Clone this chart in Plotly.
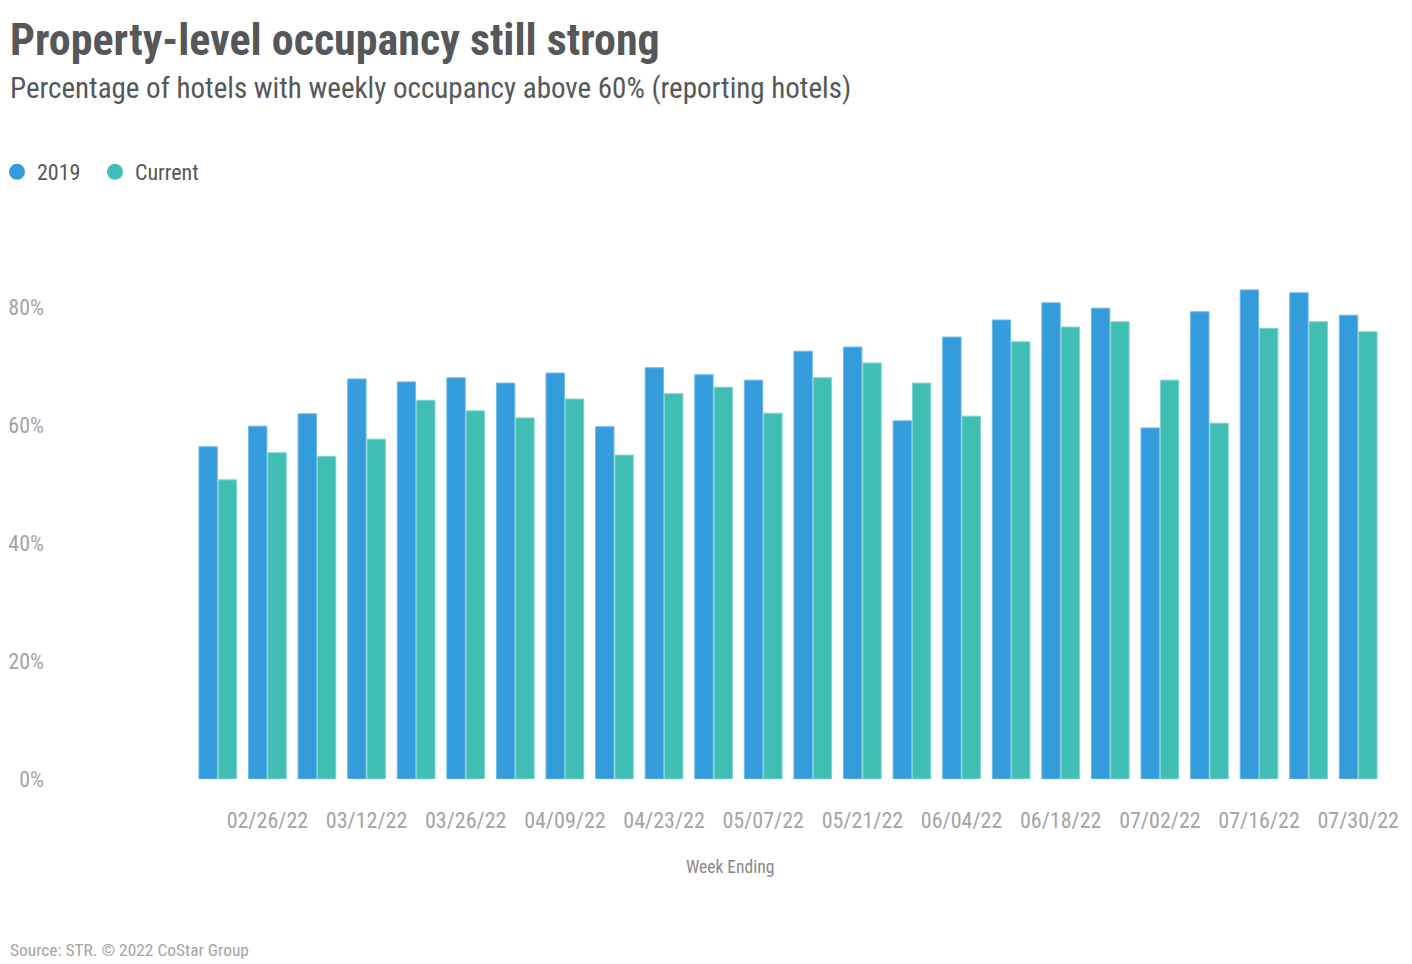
import plotly.graph_objects as go

weeks = ["02/19/22", "02/26/22", "03/05/22", "03/12/22", "03/19/22", "03/26/22",
         "04/02/22", "04/09/22", "04/16/22", "04/23/22", "04/30/22", "05/07/22",
         "05/14/22", "05/21/22", "05/28/22", "06/04/22", "06/11/22", "06/18/22",
         "06/25/22", "07/02/22", "07/09/22", "07/16/22", "07/23/22", "07/30/22"]
values_2019 = [56.3, 59.8, 61.9, 67.8, 67.3, 68.0, 67.1, 68.8, 59.7, 69.7, 68.5, 67.6,
               72.5, 73.2, 60.7, 74.9, 77.8, 80.7, 79.8, 59.5, 79.2, 82.9, 82.4, 78.6]
values_current = [50.7, 55.3, 54.7, 57.6, 64.2, 62.4, 61.2, 64.4, 54.9, 65.3, 66.4, 62.0,
                  68.0, 70.5, 67.1, 61.5, 74.1, 76.6, 77.5, 67.6, 60.3, 76.4, 77.5, 75.8]
y_ticks = [0, 20, 40, 60, 80]
x_tick_labels = weeks[1::2]

# page offset (body margin) of 8px
OFF = 8
W, H = 1412 - OFF, 964 - OFF
L, R, T, B = 193 - OFF, 29, 248 - OFF, 964 - 779
pw, ph = W - L - R, H - T - B

def px_x(x):
    return (x - OFF - L) / pw

def px_y(y):
    return (H - B - (y - OFF)) / ph

COND = "Roboto Condensed, Liberation Sans Narrow, Roboto"
BLUE, TEAL = "#359cdc", "#40beb4"

fig = go.Figure()
fig.add_trace(go.Bar(name="2019", x=weeks, y=values_2019, showlegend=False,
                     marker=dict(color=BLUE, line=dict(color="#6bb8e8", width=1))))
fig.add_trace(go.Bar(name="Current", x=weeks, y=values_current, showlegend=False,
                     marker=dict(color=TEAL, line=dict(color="#7dd4cc", width=1))))
# legend entries with round symbols
fig.add_trace(go.Scatter(name="2019", x=[None], y=[None], mode="markers", legend="legend",
                         marker=dict(color=BLUE, size=16, symbol="circle")))
fig.add_trace(go.Scatter(name="Current", x=[None], y=[None], mode="markers", legend="legend2",
                         marker=dict(color=TEAL, size=16, symbol="circle")))

leg_common = dict(orientation="h", xref="paper", yref="paper", xanchor="left",
                  yanchor="middle", itemsizing="trace",
                  font=dict(size=22, color="#555759", family=COND))

fig.update_layout(
    width=W, height=H,
    margin=dict(l=L, r=R, t=T, b=B, autoexpand=False),
    plot_bgcolor="white", paper_bgcolor="white",
    barmode="group", bargap=0.22, bargroupgap=0.05,
    font=dict(family=COND, color="#a3a3a3"),
    showlegend=True,
    legend=dict(x=px_x(-3), y=px_y(172), **leg_common),
    legend2=dict(x=px_x(95), y=px_y(172), **leg_common),
    xaxis=dict(type="category", tickmode="array", tickvals=x_tick_labels,
               ticktext=x_tick_labels, showgrid=False, zeroline=False,
               showline=False, ticks="", ticklabelstandoff=26, automargin=False,
               tickfont=dict(size=22, color="#a3a3a3", family=COND)),
    yaxis=dict(range=[0, 90], tickmode="array", tickvals=y_ticks,
               ticktext=[f"{v}%" for v in y_ticks], showgrid=False,
               zeroline=False, showline=False, ticks="", ticklabelstandoff=148,
               automargin=False,
               tickfont=dict(size=22, color="#a3a3a3", family=COND)),
    annotations=[
        dict(text="<b>Property-level occupancy still strong</b>", xref="paper", yref="paper",
             x=px_x(8), y=px_y(40), xanchor="left", yanchor="middle", showarrow=False,
             font=dict(size=44, color="#555759", family=COND)),
        dict(text="Percentage of hotels with weekly occupancy above 60% (reporting hotels)",
             xref="paper", yref="paper", x=px_x(8), y=px_y(88), xanchor="left",
             yanchor="middle", showarrow=False,
             font=dict(size=29, color="#555759", family=COND)),
        dict(text="Week Ending", xref="paper", yref="paper",
             x=px_x(730), y=px_y(867), xanchor="center", yanchor="middle", showarrow=False,
             font=dict(size=17.5, color="#888888", family=COND)),
        dict(text="Source: STR. © 2022 CoStar Group", xref="paper", yref="paper",
             x=px_x(8), y=px_y(950), xanchor="left", yanchor="middle", showarrow=False,
             font=dict(size=17.4, color="#a3a3a3", family=COND)),
    ],
)

fig.write_html("out.html")
